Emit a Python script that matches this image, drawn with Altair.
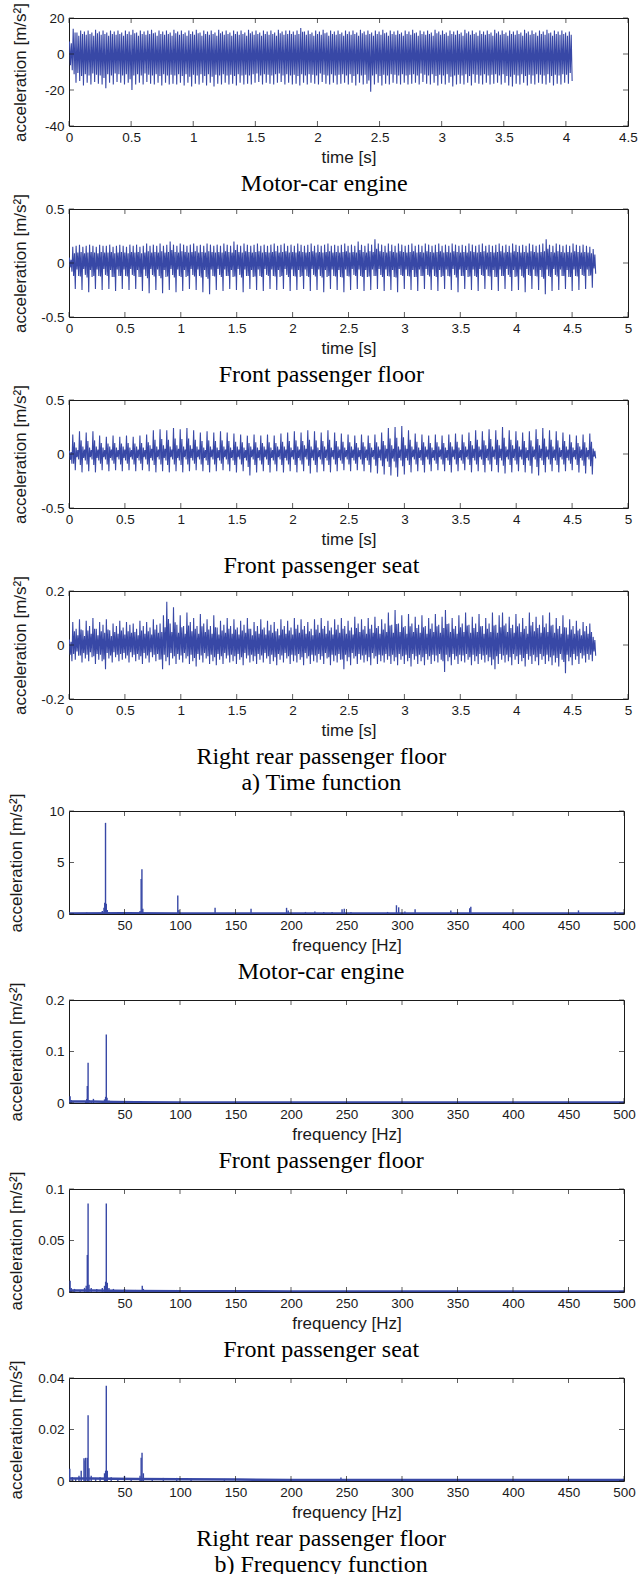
import altair as alt
import pandas as pd

BLUE = "#3848a6"
INK = "#1a1a1a"
SANS = "Liberation Sans"
SERIF = "Liberation Serif"

# ---------------------------------------------------------------------------
# Time records. One entry per engine firing cycle (about 33.3 Hz):
# the positive and the negative extreme reached inside that cycle.
# ---------------------------------------------------------------------------
CYCLE_HZ = 33.3

# Motor-car engine, m/s^2
ENGINE_HI = [7, 14, 12, 13, 12.5, 13, 12, 13.5, 12.5, 13, 12, 13, 12.5, 13, 12,
             13, 12.5, 13.5, 12, 13, 12.5, 13, 13.5, 12, 13, 12.5, 13, 12, 13.5, 12.5,
             13, 12, 13, 12.5, 13.5, 12, 13, 12.5, 13, 12, 13.5, 12.5, 13, 12, 13,
             12.5, 13, 12, 13.5, 12.5, 13, 12, 13, 12.5, 13, 12, 13.5, 12.5, 13, 13,
             12.5, 13, 14.5, 12.5, 13, 12, 13, 12.5, 13.5, 12, 13, 12.5, 13, 12, 13,
             12.5, 13, 12, 13.5, 12.5, 13, 12, 13, 12.5, 13.5, 12, 13, 12.5, 13, 12,
             13, 12.5, 13.5, 12, 13, 12.5, 13, 12, 13.5, 12.5, 13, 12, 13, 12.5, 13,
             12, 13.5, 12.5, 13, 12, 13, 12.5, 13, 12, 13.5, 12.5, 13, 12, 13, 12.5,
             13, 12, 13.5, 12.5, 13, 12, 13, 12.5, 13.5, 12, 13, 12.5, 13, 12, 12.5]
ENGINE_LO = [-9, -16, -15, -17.5, -16, -17, -15.5, -16.5, -17, -19, -16, -17, -15.5, -16, -17,
             -16, -20, -17, -16, -17, -15.5, -16.5, -17, -16, -17.5, -16, -17, -16.5, -17, -16,
             -17.5, -16, -18, -16.5, -17, -16, -17.5, -16, -18, -16.5, -17, -16, -17, -16.5, -17.5,
             -16, -17, -16.5, -17, -16, -15.5, -17, -16, -16.5, -17, -16, -15.5, -17, -16, -17,
             -16.5, -17.5, -16, -17, -16, -16.5, -17, -15.5, -16.5, -17, -16, -17, -16.5, -16, -17,
             -16, -17.5, -16, -17, -16.5, -21, -17, -16, -17.5, -16.5, -17, -16, -16.5, -17, -16,
             -17, -16.5, -16, -17, -15.5, -16.5, -17, -16, -17.5, -16.5, -17, -16, -18, -17, -16.5,
             -17, -16, -17.5, -16, -16.5, -17, -16, -17, -16.5, -16, -17, -16, -17.5, -18, -16.5,
             -17, -16, -17.5, -16.5, -17, -16, -16.5, -17, -16, -17.5, -16.5, -17, -16, -16.5, -15]

# Front passenger floor, 0.01 m/s^2
FLOOR_HI = [5, 15, 16, 17, 15, 16, 17, 16, 15, 17, 16, 16, 17, 15, 16, 17,
            16, 15, 17, 16, 17, 15, 16, 18, 16, 17, 16, 18, 16, 17, 20, 17,
            16, 18, 17, 16, 17, 18, 16, 17, 16, 18, 17, 16, 17, 16, 18, 17,
            16, 20, 17, 16, 18, 17, 16, 17, 18, 16, 17, 16, 17, 18, 16, 17,
            18, 16, 17, 16, 18, 17, 16, 17, 18, 16, 17, 16, 17, 18, 16, 17,
            16, 17, 18, 16, 17, 16, 20, 17, 16, 18, 17, 22, 18, 17, 16, 18,
            17, 16, 18, 17, 16, 17, 18, 16, 17, 16, 18, 17, 16, 17, 18, 16,
            17, 16, 18, 17, 16, 17, 16, 18, 17, 16, 17, 18, 16, 17, 16, 17,
            18, 16, 17, 16, 18, 17, 16, 17, 16, 18, 17, 16, 17, 18, 22, 17,
            16, 18, 17, 16, 17, 16, 18, 17, 16, 17, 16, 15, 13]
FLOOR_LO = [-8, -24, -12, -25, -11, -27, -13, -24, -12, -25, -11, -24, -13, -26, -12, -24,
            -12, -25, -11, -24, -13, -26, -12, -28, -11, -25, -12, -28, -13, -25, -11, -27,
            -12, -26, -13, -24, -11, -25, -12, -27, -13, -29, -12, -25, -11, -26, -12, -24,
            -13, -25, -11, -27, -12, -24, -13, -25, -12, -26, -11, -24, -12, -25, -13, -24,
            -11, -26, -12, -25, -13, -24, -12, -26, -11, -25, -12, -27, -13, -24, -12, -25,
            -13, -27, -12, -25, -11, -24, -12, -26, -13, -25, -12, -24, -11, -26, -12, -25,
            -13, -27, -11, -24, -12, -25, -13, -26, -12, -24, -11, -25, -12, -26, -13, -24,
            -12, -25, -11, -27, -12, -24, -13, -25, -12, -26, -11, -24, -12, -25, -13, -26,
            -12, -24, -11, -26, -13, -25, -12, -27, -11, -24, -12, -25, -13, -29, -12, -26,
            -11, -25, -12, -24, -13, -26, -12, -25, -11, -24, -12, -23, -10]

# Front passenger seat, 0.01 m/s^2
SEAT_HI = [3, 18, 6, 21, 7, 20, 6, 21, 7, 17, 6, 16, 7, 17, 6, 16,
           7, 17, 6, 16, 7, 17, 6, 18, 8, 22, 7, 23, 8, 22, 7, 24,
           8, 23, 7, 24, 8, 22, 7, 20, 6, 21, 7, 20, 6, 21, 7, 20,
           6, 19, 7, 18, 6, 17, 7, 18, 6, 17, 7, 18, 6, 17, 7, 19,
           7, 20, 6, 21, 7, 20, 8, 22, 7, 21, 6, 20, 7, 22, 6, 20,
           7, 19, 6, 18, 7, 17, 6, 18, 7, 17, 6, 18, 7, 20, 8, 24,
           8, 25, 7, 26, 8, 22, 7, 19, 6, 18, 7, 17, 6, 18, 7, 17,
           6, 18, 7, 19, 6, 18, 7, 20, 8, 22, 7, 21, 8, 23, 7, 22,
           8, 25, 7, 22, 8, 21, 7, 20, 6, 21, 7, 23, 8, 24, 7, 22,
           7, 21, 6, 20, 7, 18, 6, 17, 7, 18, 6, 19, 5]
SEAT_LO = [-9, -15, -5, -17, -6, -16, -5, -17, -6, -15, -5, -16, -6, -15, -5, -16,
           -6, -15, -5, -16, -6, -15, -5, -16, -6, -17, -5, -16, -6, -17, -5, -16,
           -6, -17, -5, -16, -6, -15, -5, -16, -6, -17, -5, -16, -6, -15, -5, -16,
           -6, -17, -5, -16, -6, -20, -5, -17, -6, -16, -5, -17, -6, -16, -5, -17,
           -6, -16, -5, -17, -6, -16, -5, -18, -6, -17, -5, -16, -6, -17, -5, -16,
           -6, -15, -5, -16, -6, -15, -5, -16, -6, -17, -5, -18, -6, -19, -7, -20,
           -7, -21, -6, -19, -6, -17, -5, -16, -6, -17, -5, -16, -6, -15, -5, -16,
           -6, -17, -5, -16, -6, -15, -5, -17, -6, -16, -5, -17, -6, -16, -5, -17,
           -6, -18, -5, -17, -6, -16, -5, -17, -6, -18, -5, -20, -6, -17, -5, -16,
           -6, -17, -5, -16, -6, -15, -5, -17, -6, -18, -5, -19, -4]

# Right rear passenger floor, 0.001 m/s^2
REAR_HI = [20, 85, 60, 95, 55, 90, 70, 100, 60, 85, 75, 95, 55, 80, 70, 90,
           65, 85, 75, 80, 60, 90, 70, 85, 65, 95, 75, 80, 110, 160, 80, 140,
           75, 110, 70, 120, 85, 100, 70, 115, 80, 95, 70, 110, 65, 90, 75, 100,
           70, 95, 65, 90, 75, 100, 60, 85, 70, 95, 65, 90, 75, 85, 60, 95,
           70, 90, 65, 100, 75, 95, 70, 85, 60, 95, 75, 100, 70, 90, 65, 95,
           75, 100, 70, 90, 65, 105, 80, 95, 70, 100, 75, 105, 70, 95, 80, 120,
           75, 130, 80, 110, 70, 115, 80, 105, 75, 110, 70, 100, 80, 115, 75, 105,
           130, 80, 100, 70, 110, 80, 120, 75, 105, 80, 115, 70, 100, 80, 120, 75,
           110, 120, 80, 105, 75, 115, 80, 100, 70, 120, 85, 105, 75, 110, 80, 120,
           75, 100, 70, 110, 65, 95, 70, 90, 60, 85, 70, 80, 30]
REAR_LO = [-60, -55, -40, -65, -50, -60, -45, -70, -55, -60, -90, -50, -65, -45, -60, -55,
           -50, -65, -45, -60, -55, -70, -50, -65, -45, -60, -55, -90, -60, -75, -50, -70,
           -55, -65, -50, -70, -60, -80, -55, -65, -50, -70, -60, -75, -55, -70, -50, -65,
           -60, -70, -55, -75, -50, -65, -60, -70, -55, -65, -50, -70, -60, -75, -55, -65,
           -50, -70, -60, -65, -55, -75, -50, -70, -60, -65, -55, -70, -50, -75, -60, -65,
           -55, -90, -60, -75, -50, -70, -55, -65, -60, -75, -50, -70, -60, -65, -55, -70,
           -60, -75, -55, -70, -60, -80, -55, -70, -60, -75, -55, -70, -60, -65, -55, -100,
           -60, -75, -55, -70, -60, -65, -55, -75, -60, -70, -55, -65, -60, -75, -90, -70,
           -55, -65, -60, -75, -55, -70, -60, -80, -55, -70, -60, -75, -55, -70, -60, -75,
           -65, -80, -55, -105, -60, -75, -55, -70, -50, -65, -55, -60, -40]

# Waveform inside one cycle: which extreme is visited and what share of it.
ENGINE_SHAPE = [("hi", 1.0), ("lo", 0.7), ("hi", 0.85), ("lo", 1.0)]
FLOOR_SHAPE = [("hi", 1.0), ("lo", 0.5), ("hi", 0.6), ("lo", 1.0)]
SEAT_SHAPE = [("hi", 1.0), ("lo", 0.6), ("hi", 0.6), ("lo", 1.0)]
REAR_SHAPE = [("hi", 1.0), ("lo", 0.6), ("hi", 0.6), ("lo", 1.0)]

# ---------------------------------------------------------------------------
# Amplitude spectra: spectral lines (Hz, m/s^2) and the low noise floor.
# ---------------------------------------------------------------------------
ENGINE_F = [16, 30, 31.5, 32.2, 32.9, 33.6, 34.5, 36, 64, 65, 65.7, 66.5, 98, 99,
            131.6, 164, 196, 197.5, 213, 221.5, 229.5, 237, 246, 248, 254, 287,
            295, 297, 302.6, 311.8, 344, 350, 361, 362, 459, 492]
ENGINE_A = [0.15, 0.3, 0.6, 1.1, 8.85, 1.0, 0.4, 0.2, 0.3, 3.4, 4.35, 0.5, 1.8, 0.4,
            0.6, 0.5, 0.6, 0.35, 0.2, 0.25, 0.2, 0.2, 0.45, 0.5, 0.2, 0.2,
            0.85, 0.65, 0.25, 0.45, 0.35, 0.2, 0.55, 0.7, 0.35, 0.25]
ENGINE_FLOOR_F = [0, 50, 100, 150, 200, 250, 300, 350, 400, 450, 500]
ENGINE_FLOOR_A = [0.06, 0.07, 0.06, 0.05, 0.06, 0.06, 0.06, 0.05, 0.05, 0.05, 0.05]

FLOOR_F = [1, 2, 15, 16, 16.5, 17.2, 18, 20, 22, 30, 32, 33, 33.6, 34.3, 36, 38]
FLOOR_A = [0.013, 0.006, 0.004, 0.008, 0.033, 0.078, 0.006, 0.004, 0.008, 0.004,
           0.007, 0.012, 0.133, 0.01, 0.005, 0.003]
FLOOR_FLOOR_F = [0, 20, 40, 60, 100, 200, 300, 400, 500]
FLOOR_FLOOR_A = [0.003, 0.003, 0.002, 0.0015, 0.0012, 0.001, 0.001, 0.001, 0.001]

SEAT_F = [1, 2, 5, 10, 14, 15.5, 16.5, 17.2, 18, 20, 25, 30, 32, 33, 33.6, 34.5, 36,
          40, 45, 50, 55, 60, 66, 67, 83, 97]
SEAT_A = [0.011, 0.004, 0.003, 0.002, 0.004, 0.006, 0.036, 0.086, 0.007, 0.004, 0.003,
          0.004, 0.006, 0.01, 0.086, 0.009, 0.004, 0.003, 0.002, 0.003, 0.002, 0.002,
          0.006, 0.003, 0.002, 0.002]
SEAT_FLOOR_F = [0, 20, 40, 60, 100, 200, 300, 400, 500]
SEAT_FLOOR_A = [0.0015, 0.0015, 0.0012, 0.001, 0.0008, 0.0006, 0.0006, 0.0006, 0.0006]

REAR_F = [0.7, 3, 6, 9, 11, 13.5, 14.5, 15, 16.5, 17.2, 18, 20, 24, 28, 32, 33, 33.6,
          34.5, 38, 44, 50, 56, 64, 65, 65.8, 67, 75, 85, 97, 110, 140, 165, 190, 212, 245]
REAR_A = [0.0048, 0.0015, 0.001, 0.002, 0.004, 0.0088, 0.008, 0.009, 0.009, 0.0255,
          0.005, 0.002, 0.0012, 0.0015, 0.003, 0.004, 0.037, 0.004, 0.0015, 0.001,
          0.002, 0.001, 0.002, 0.009, 0.011, 0.003, 0.001, 0.0012, 0.0012, 0.001,
          0.0008, 0.0006, 0.0007, 0.0006, 0.0014]
REAR_FLOOR_F = [0, 20, 40, 60, 100, 150, 200, 300, 400, 500]
REAR_FLOOR_A = [0.001, 0.001, 0.0009, 0.0008, 0.0007, 0.0006, 0.0004, 0.0004, 0.0004, 0.0004]

# Axis tick values
TICKS_T45 = [0, 0.5, 1, 1.5, 2, 2.5, 3, 3.5, 4, 4.5]
TICKS_T5 = [0, 0.5, 1, 1.5, 2, 2.5, 3, 3.5, 4, 4.5, 5]
TICKS_F = [50, 100, 150, 200, 250, 300, 350, 400, 450, 500]

TIME_W, TIME_H = 559, 108
FREQ_W, FREQ_H = 555, 103
Y_TITLE = "acceleration [m/s²]"
LABELS = "(datum.value < 0 ? '-' : '') + abs(datum.value)"


def record(hi, lo, shape, unit=1.0):
    """Expand per-cycle extremes into a sampled trace."""
    t, a = [], []
    n = len(shape)
    for i, (h, l) in enumerate(zip(hi, lo)):
        for k, (which, share) in enumerate(shape):
            t.append((i + (k + 0.5) / n) / CYCLE_HZ)
            a.append(share * (h if which == "hi" else l) * unit)
    return pd.DataFrame({"t": t, "a": a})


def x_axis(ticks, title):
    return alt.Axis(values=ticks, title=title, labelExpr=LABELS, ticks=False,
                    domain=False, grid=False, labelFlush=False, labelOverlap=False,
                    labelFont=SANS, labelFontSize=13.5, labelColor=INK, labelPadding=4,
                    titleFont=SANS, titleFontSize=17, titleFontWeight="normal",
                    titleColor=INK, titlePadding=6)


def y_axis(ticks, height, title_x):
    return alt.Axis(values=ticks, title=Y_TITLE, labelExpr=LABELS, ticks=False,
                    domain=False, grid=False, labelOverlap=False,
                    labelFont=SANS, labelFontSize=13.5, labelColor=INK, labelPadding=5,
                    titleFont=SANS, titleFontSize=17, titleFontWeight="normal",
                    titleColor=INK, titleX=title_x, titleY=height / 2, titleAngle=270,
                    titleAlign="center", titleBaseline="middle")


def frame_ticks(xticks, yticks, xs, ys, xax, yax, xdom, ydom):
    """Short inward tick marks on all four sides of the box."""
    xt = pd.DataFrame({"v": xticks})
    yt = pd.DataFrame({"v": yticks})
    out = []
    for edge, off in ((ydom[0], -2.5), (ydom[1], 2.5)):
        out.append(alt.Chart(xt).mark_tick(orient="vertical", size=5, thickness=1,
                                           color=INK, yOffset=off).encode(
            x=alt.X("v:Q", scale=xs, axis=xax),
            y=alt.YDatum(edge, scale=ys, axis=yax)))
    for edge, off in ((xdom[0], 2.5), (xdom[1], -2.5)):
        out.append(alt.Chart(yt).mark_tick(orient="horizontal", size=5, thickness=1,
                                           color=INK, xOffset=off).encode(
            y=alt.Y("v:Q", scale=ys, axis=yax),
            x=alt.XDatum(edge, scale=xs, axis=xax)))
    return out


def caption(text):
    return alt.TitleParams(text=text, orient="bottom", anchor="middle", frame="bounds",
                           font=SERIF, fontSize=24, fontWeight="normal", color="black",
                           offset=6, lineHeight=26)


def time_panel(df, xmax, xticks, ydom, yticks, cap):
    xs = alt.Scale(domain=[0, xmax], nice=False, zero=False)
    ys = alt.Scale(domain=ydom, nice=False, zero=False)
    xax = x_axis(xticks, "time [s]")
    yax = y_axis(yticks, TIME_H, -49)
    line = alt.Chart(df).mark_line(color=BLUE, strokeWidth=1.1, clip=True).encode(
        x=alt.X("t:Q", scale=xs, axis=xax),
        y=alt.Y("a:Q", scale=ys, axis=yax))
    ticks = frame_ticks(xticks, yticks, xs, ys, xax, yax, [0, xmax], ydom)
    return alt.layer(line, *ticks).properties(
        width=TIME_W, height=TIME_H, title=caption(cap))


def freq_panel(f, a, floor_f, floor_a, ydom, yticks, cap):
    xs = alt.Scale(domain=[0, 500], nice=False, zero=False)
    ys = alt.Scale(domain=ydom, nice=False, zero=False)
    xax = x_axis(TICKS_F, "frequency [Hz]")
    yax = y_axis(yticks, FREQ_H, -53)
    spikes = alt.Chart(pd.DataFrame({"f": f, "a": a})).mark_rule(
        color=BLUE, strokeWidth=1.4, clip=True).encode(
        x=alt.X("f:Q", scale=xs, axis=xax),
        y=alt.Y("a:Q", scale=ys, axis=yax),
        y2=alt.Y2Datum(0))
    floor = alt.Chart(pd.DataFrame({"f": floor_f, "a": floor_a})).mark_line(
        color=BLUE, strokeWidth=2.5, clip=True).encode(
        x=alt.X("f:Q", scale=xs, axis=xax),
        y=alt.Y("a:Q", scale=ys, axis=yax))
    ticks = frame_ticks(TICKS_F, yticks, xs, ys, xax, yax, [0, 500], ydom)
    return alt.layer(spikes, floor, *ticks).properties(
        width=FREQ_W, height=FREQ_H, title=caption(cap))


panels = [
    time_panel(record(ENGINE_HI, ENGINE_LO, ENGINE_SHAPE), 4.5, TICKS_T45,
               [-40, 20], [-40, -20, 0, 20], "Motor-car engine"),
    time_panel(record(FLOOR_HI, FLOOR_LO, FLOOR_SHAPE, 0.01), 5, TICKS_T5,
               [-0.5, 0.5], [-0.5, 0, 0.5], "Front passenger floor"),
    time_panel(record(SEAT_HI, SEAT_LO, SEAT_SHAPE, 0.01), 5, TICKS_T5,
               [-0.5, 0.5], [-0.5, 0, 0.5], "Front passenger seat"),
    time_panel(record(REAR_HI, REAR_LO, REAR_SHAPE, 0.001), 5, TICKS_T5,
               [-0.2, 0.2], [-0.2, 0, 0.2],
               ["Right rear passenger floor", "a) Time function"]),
    freq_panel(ENGINE_F, ENGINE_A, ENGINE_FLOOR_F, ENGINE_FLOOR_A,
               [0, 10], [0, 5, 10], "Motor-car engine"),
    freq_panel(FLOOR_F, FLOOR_A, FLOOR_FLOOR_F, FLOOR_FLOOR_A,
               [0, 0.2], [0, 0.1, 0.2], "Front passenger floor"),
    freq_panel(SEAT_F, SEAT_A, SEAT_FLOOR_F, SEAT_FLOOR_A,
               [0, 0.1], [0, 0.05, 0.1], "Front passenger seat"),
    freq_panel(REAR_F, REAR_A, REAR_FLOOR_F, REAR_FLOOR_A,
               [0, 0.04], [0, 0.02, 0.04],
               ["Right rear passenger floor", "b) Frequency function"]),
]

# One column; "none" packs each panel by its own outer box.
chart = alt.concat(*panels, columns=1, spacing=-3, align="none", bounds="full").properties(
    padding={"left": 6, "top": 2, "right": 0, "bottom": 0}
).configure(background="white").configure_view(stroke=INK, strokeWidth=1)

chart.save("out.html", embed_options={"renderer": "svg", "actions": False})
